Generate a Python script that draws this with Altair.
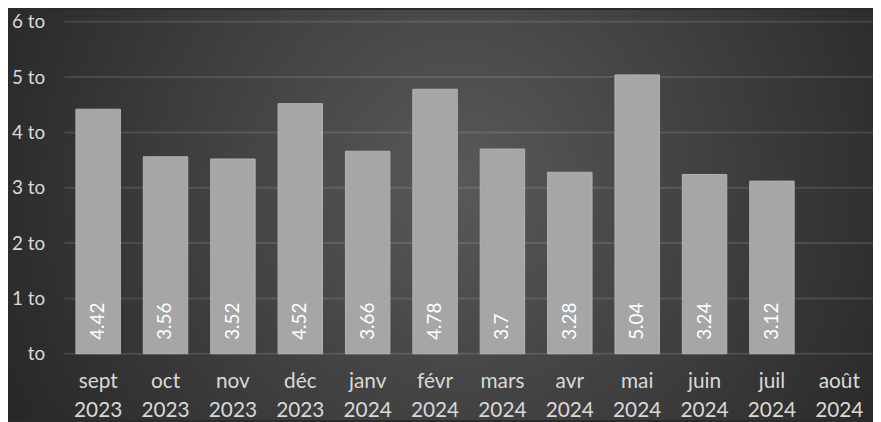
import altair as alt
import pandas as pd

months = ["sept 2023", "oct 2023", "nov 2023", "déc 2023", "janv 2024", "févr 2024",
          "mars 2024", "avr 2024", "mai 2024", "juin 2024", "juil 2024", "août 2024"]
values = [4.42, 3.56, 3.52, 4.52, 3.66, 4.78, 3.7, 3.28, 5.04, 3.24, 3.12, None]
y_ticks = [0, 1, 2, 3, 4, 5, 6]

df = pd.DataFrame({"mois": months, "valeur": values})
grid_df = pd.DataFrame({"tick": y_ticks})
bg_df = pd.DataFrame({"a": [0]})

W, H = 816, 335
FONT = "Lato"

y_scale = alt.Scale(domain=[0, 6], nice=False)
x_enc = alt.X(
    "mois:N",
    sort=months,
    scale=alt.Scale(domain=months, paddingInner=0.34, paddingOuter=0.17),
    axis=alt.Axis(
        title=None, labelAngle=0, labelExpr="split(datum.label, ' ')",
        domain=False, ticks=False, labelPadding=17, labelFontSize=21,
        labelLineHeight=29, labelColor="#d9d9d9", labelFont=FONT,
        labelBaseline="top", zindex=2,
    ),
)

bg = alt.Chart(bg_df).mark_rect(
    color=alt.Gradient(
        gradient="radial",
        stops=[alt.GradientStop(offset=0, color="#595959"),
               alt.GradientStop(offset=1, color="#262626")],
        x1=0.52, y1=0.46, x2=0.52, y2=0.46, r1=0, r2=0.6,
    )
).encode(
    x=alt.value(-57), x2=alt.value(W), y=alt.value(-12), y2=alt.value(402)
)

grid = alt.Chart(grid_df).mark_rule(color="white", opacity=0.11, strokeWidth=2).encode(
    y=alt.Y("tick:Q", scale=y_scale),
    x=alt.value(0), x2=alt.value(W),
)

bars = alt.Chart(df).mark_bar(color="#a6a6a6", stroke="#b3b3b3", strokeWidth=1).encode(
    x=x_enc,
    y=alt.Y(
        "valeur:Q", scale=y_scale,
        axis=alt.Axis(
            values=y_ticks, title=None, grid=False, ticks=False, domain=False,
            labelExpr="datum.value == 0 ? 'to' : format(datum.value, 'd') + ' to'",
            labelPadding=20, labelFontSize=19, labelColor="#d9d9d9", labelFont=FONT,
            zindex=2,
        ),
    ),
)

labels = alt.Chart(df).transform_filter("isValid(datum.valeur)").transform_calculate(
    lab="toString(datum.valeur)"
).mark_text(
    angle=270, align="left", baseline="middle", dx=14, fontSize=19, font=FONT, color="white"
).encode(
    x=x_enc,
    y=alt.datum(0),
    text="lab:N",
)

chart = alt.layer(bg, grid, bars, labels).properties(
    width=W, height=H,
    padding={"left": 57, "top": 12, "right": 0, "bottom": 67},
    autosize="none",
    background="#2b2b2b",
).configure_view(strokeWidth=0)

chart.save("out.html", embed_options={"renderer": "svg", "actions": False})
